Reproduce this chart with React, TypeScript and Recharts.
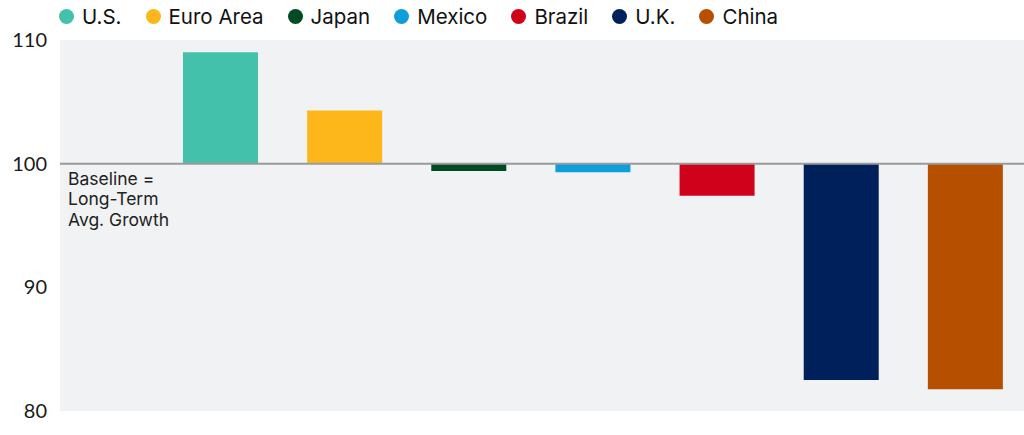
import React from 'react';
import { BarChart, Bar, XAxis, YAxis, CartesianGrid, ReferenceLine, Cell } from 'recharts';

// (index, baseline = 100)
const countries = ['U.S.', 'Euro Area', 'Japan', 'Mexico', 'Brazil', 'U.K.', 'China'];
const indexValues = [109.0, 104.3, 99.4, 99.3, 97.4, 82.5, 81.75];
const barColors = ['#43c1ab', '#fdb71a', '#004b23', '#0e9fdb', '#d0021b', '#00205b', '#b65000'];
const yTicks = [80, 90, 100, 110];
const baselineLines = ['Baseline =', 'Long-Term', 'Avg. Growth'];

const BASELINE = 100;
const FONT = 'Inter, Lato, sans-serif';
const TICK_FONT = 'Lato, sans-serif';

// range bars drawn from the 100 baseline
const data = countries.map((name, i) => ({
    name,
    value: indexValues[i],
    range: [Math.min(BASELINE, indexValues[i]), Math.max(BASELINE, indexValues[i])],
}));

const BaselineLabel = (props: any) => {
    const { viewBox } = props;
    const x = viewBox.x + 8;
    const y = viewBox.y + 21;
    return (
        <text x={x} y={y} fill="#222" fontSize={17.5} fontFamily={FONT}>
            {baselineLines.map((line, i) => (
                <tspan key={line} x={x} dy={i === 0 ? 0 : 20.5}>
                    {line}
                </tspan>
            ))}
        </text>
    );
};

const App: React.FC = () => {
    return (
        <div style={{ position: 'absolute', left: 0, top: 0, width: 1024, height: 435, overflow: 'hidden', background: '#fff' }}>
            <div
                style={{
                    position: 'absolute',
                    left: 59,
                    top: 4,
                    display: 'flex',
                    alignItems: 'center',
                    gap: 24,
                    fontFamily: FONT,
                    fontSize: 20.5,
                    color: '#111',
                    whiteSpace: 'nowrap',
                }}
            >
                {countries.map((c, i) => (
                    <div key={c} style={{ display: 'flex', alignItems: 'center', gap: 8 }}>
                        <div style={{ width: 15, height: 15, borderRadius: '50%', background: barColors[i] }}></div>
                        <span>{c}</span>
                    </div>
                ))}
            </div>
            <BarChart
                width={1027}
                height={435}
                data={data}
                margin={{ top: 40, right: 0, left: 0, bottom: 24 }}
            >
                <CartesianGrid horizontal={false} vertical={false} fill="#f1f2f4" />
                <XAxis dataKey="name" hide padding={{ left: 98, right: 0 }} />
                <YAxis
                    width={60}
                    domain={[80, 110]}
                    ticks={yTicks}
                    axisLine={false}
                    tickLine={false}
                    tickMargin={7}
                    tick={{ fill: '#1a1a1a', fontSize: 20, fontFamily: TICK_FONT }}
                />
                <Bar dataKey="range" barSize={75} isAnimationActive={false}>
                    {data.map((entry, index) => (
                        <Cell key={`cell-${index}`} fill={barColors[index]} />
                    ))}
                </Bar>
                <ReferenceLine y={BASELINE} stroke="#9a9a9a" strokeWidth={2} label={<BaselineLabel />} />
            </BarChart>
        </div>
    );
};

export default App;
